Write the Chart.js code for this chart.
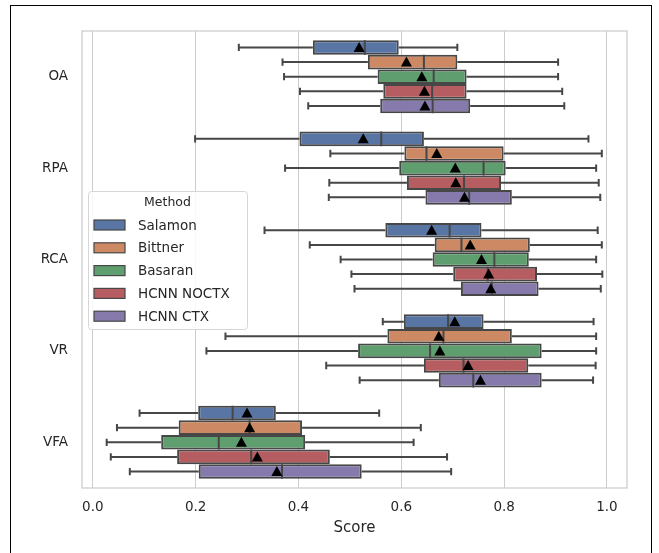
<!DOCTYPE html>
<html>
<head>
<meta charset="utf-8">
<script src="https://cdn.jsdelivr.net/npm/chart.js@4/dist/chart.umd.min.js"></script>
<style>
  body { margin: 0; background: #fff; overflow: hidden; }
  #wrap { position: relative; width: 659px; height: 553px; }
  #frame { position: absolute; left: 10px; top: 5px; width: 640px; height: 600px; border: 1px solid #000; pointer-events: none; }
</style>
</head>
<body>
<div id="wrap">
  <canvas id="box"></canvas>
  <div id="frame"></div>
</div>
<script>
// Box plot of scores per region, one box per method

const categories = ['OA', 'RPA', 'RCA', 'VR', 'VFA'];
const methods = ['Salamon', 'Bittner', 'Basaran', 'HCNN NOCTX', 'HCNN CTX'];
const xTicks = [0, 0.2, 0.4, 0.6, 0.8, 1.0];

// each row: [whisker low, q1, median, q3, whisker high, mean]
const salamon = [
  [0.284, 0.428, 0.529, 0.595, 0.709, 0.518],
  [0.199, 0.402, 0.561, 0.644, 0.964, 0.526],
  [0.334, 0.569, 0.694, 0.756, 0.982, 0.659],
  [0.564, 0.605, 0.691, 0.760, 0.974, 0.704],
  [0.091, 0.205, 0.272, 0.356, 0.557, 0.300]
];
const bittner = [
  [0.369, 0.535, 0.644, 0.709, 0.905, 0.610],
  [0.462, 0.606, 0.649, 0.799, 0.990, 0.669],
  [0.422, 0.665, 0.717, 0.850, 0.990, 0.734],
  [0.258, 0.573, 0.682, 0.815, 0.979, 0.673],
  [0.047, 0.167, 0.305, 0.407, 0.638, 0.305]
];
const basaran = [
  [0.372, 0.554, 0.663, 0.727, 0.905, 0.640],
  [0.374, 0.596, 0.760, 0.803, 0.979, 0.705],
  [0.482, 0.661, 0.781, 0.848, 0.979, 0.756],
  [0.221, 0.516, 0.656, 0.873, 0.979, 0.675],
  [0.027, 0.133, 0.245, 0.413, 0.624, 0.289]
];
const hcnnNoctx = [
  [0.403, 0.565, 0.660, 0.727, 0.913, 0.645],
  [0.460, 0.611, 0.722, 0.794, 0.984, 0.706],
  [0.503, 0.701, 0.768, 0.864, 0.991, 0.770],
  [0.454, 0.644, 0.721, 0.847, 0.978, 0.730],
  [0.035, 0.164, 0.308, 0.461, 0.689, 0.320]
];
const hcnnCtx = [
  [0.419, 0.559, 0.661, 0.734, 0.917, 0.646],
  [0.459, 0.647, 0.732, 0.815, 0.987, 0.723],
  [0.509, 0.716, 0.776, 0.867, 0.988, 0.774],
  [0.519, 0.673, 0.740, 0.873, 0.973, 0.754],
  [0.072, 0.206, 0.368, 0.523, 0.697, 0.358]
];

const allStats = [salamon, bittner, basaran, hcnnNoctx, hcnnCtx];
const colors = ['#5875a4', '#cc8963', '#5f9e6e', '#b55d60', '#857aab'];
const lineColor = '#474747';
const textColor = '#262626';
const FONT = "'DejaVu Sans', sans-serif";

// whiskers, medians, means and the axes frame
const boxExtras = {
  id: 'boxExtras',
  beforeDatasetsDraw(chart) {
    const a = chart.chartArea, ctx = chart.ctx;
    ctx.save();
    ctx.strokeStyle = '#cccccc';
    ctx.lineWidth = 1.25;
    ctx.strokeRect(a.left, a.top, a.right - a.left, a.bottom - a.top);
    ctx.restore();
  },
  afterDatasetsDraw(chart) {
    const ctx = chart.ctx, xs = chart.scales.x;
    ctx.save();
    allStats.forEach((stats, i) => {
      const meta = chart.getDatasetMeta(i);
      stats.forEach((s, j) => {
        const bar = meta.data[j];
        const y = bar.y, h = bar.height;
        const [lo, q1, med, q3, hi, mean] = s.map(v => xs.getPixelForValue(v));
        ctx.strokeStyle = lineColor;
        ctx.lineWidth = 2;
        ctx.beginPath();
        ctx.moveTo(lo, y); ctx.lineTo(q1, y);
        ctx.moveTo(q3, y); ctx.lineTo(hi, y);
        ctx.moveTo(lo, y - h * 0.25); ctx.lineTo(lo, y + h * 0.25);
        ctx.moveTo(hi, y - h * 0.25); ctx.lineTo(hi, y + h * 0.25);
        ctx.moveTo(med, y - h / 2); ctx.lineTo(med, y + h / 2);
        ctx.stroke();
        ctx.fillStyle = '#000';
        ctx.beginPath();
        ctx.moveTo(mean, y - 5.5);
        ctx.lineTo(mean + 5.5, y + 4.5);
        ctx.lineTo(mean - 5.5, y + 4.5);
        ctx.closePath();
        ctx.fill();
      });
    });
    ctx.restore();
  },
  afterDraw(chart) {
    // legend box in the same place as the reference
    const ctx = chart.ctx;
    const x0 = 88, y0 = 191, w = 159, h = 138;
    ctx.save();
    ctx.fillStyle = 'rgba(255,255,255,0.85)';
    ctx.strokeStyle = '#d6d6d6';
    ctx.lineWidth = 1;
    ctx.beginPath();
    ctx.roundRect(x0 + 0.5, y0 + 0.5, w, h, 3);
    ctx.fill();
    ctx.stroke();
    ctx.fillStyle = textColor;
    ctx.textBaseline = 'middle';
    ctx.textAlign = 'center';
    ctx.font = '12.5px ' + FONT;
    ctx.fillText('Method', x0 + w / 2, y0 + 12);
    ctx.textAlign = 'left';
    ctx.font = '13.5px ' + FONT;
    chart.data.datasets.forEach((ds, i) => {
      const yy = y0 + 34 + i * 22.8;
      ctx.fillStyle = ds.backgroundColor;
      ctx.fillRect(94, yy - 5, 31, 10);
      ctx.strokeStyle = lineColor;
      ctx.lineWidth = 1.2;
      ctx.strokeRect(94, yy - 5, 31, 10);
      ctx.fillStyle = textColor;
      ctx.fillText(ds.label, 138, yy + 1);
    });
    ctx.restore();
  }
};

new Chart(document.getElementById('box'), {
  type: 'bar',
  data: {
    labels: categories,
    datasets: methods.map((m, i) => ({
      label: m,
      data: allStats[i].map(s => [s[1], s[3]]),
      backgroundColor: colors[i],
      borderColor: lineColor,
      borderWidth: 2,
      borderSkipped: false,
      categoryPercentage: 0.8,
      barPercentage: 1.0
    }))
  },
  options: {
    indexAxis: 'y',
    responsive: true,
    maintainAspectRatio: false,
    animation: false,
    layout: { padding: { left: 0, top: 31, right: 32, bottom: 0 } },
    plugins: { legend: { display: false }, tooltip: { enabled: false } },
    scales: {
      x: {
        type: 'linear',
        min: -0.021,
        max: 1.039,
        afterBuildTicks: s => { s.ticks = xTicks.map(v => ({ value: v })); },
        afterFit: s => { s.height = 65; },
        border: { display: false },
        grid: { color: '#cccccc', lineWidth: 1, drawTicks: false },
        ticks: {
          color: textColor, padding: 11,
          font: { family: FONT, size: 13.5 },
          callback: v => v.toFixed(1)
        },
        title: {
          display: true, text: 'Score', color: textColor,
          font: { family: FONT, size: 15 },
          padding: { top: 4, bottom: 16 }
        }
      },
      y: {
        afterFit: s => { s.width = 82; },
        border: { display: false },
        grid: { display: false, drawTicks: false },
        ticks: { color: textColor, padding: 14, font: { family: FONT, size: 13.5 } }
      }
    }
  },
  plugins: [boxExtras]
});
</script>
</body>
</html>
